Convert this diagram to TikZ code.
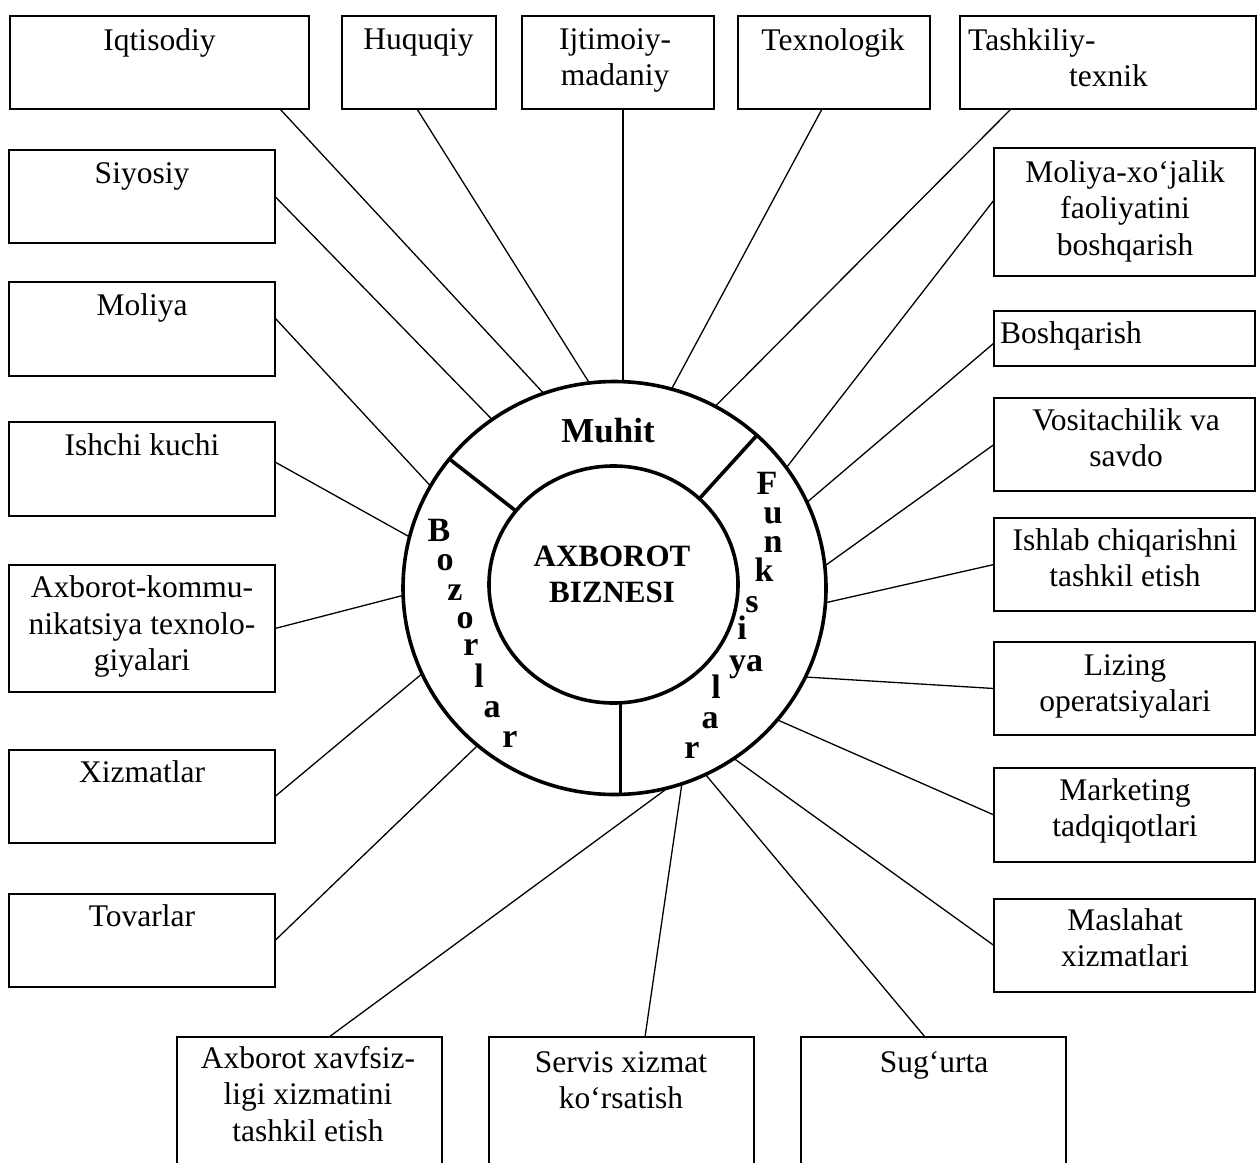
\documentclass[tikz,border=0pt]{standalone}
\usepackage{fontspec}
\setmainfont{Liberation Serif}
\usetikzlibrary{shapes.geometric}
% stacked, centred lines whose baseline is that of the first line
\newcommand{\boxlines}[1]{\begin{tabular}[t]{@{}c@{}}#1\end{tabular}}
\begin{document}
\begin{tikzpicture}[x=1pt,y=-1pt,
  frame/.style={draw, rectangle, line width=1.6pt, inner sep=0pt, outer sep=0pt},
  boxtext/.style={inner sep=0pt, anchor=base, font=\fontsize{31.5}{36.5}\selectfont},
  link/.style={line width=1.3pt},
  ring/.style={draw, ellipse, line width=3.6pt, inner sep=0pt, outer sep=0pt},
  divider/.style={line width=3.6pt},
  letter/.style={inner sep=0pt, anchor=base, font=\fontsize{34}{40}\selectfont\bfseries}
]
\useasboundingbox (0,0) rectangle (1257,1162);
\clip (0,0) rectangle (1257,1162);

% ---- boxes: top row
\node[frame, minimum width=299, minimum height=93] (iqt)  at (159.5,62.5) {};
\node[frame, minimum width=154, minimum height=93] (huq)  at (419,62.5) {};
\node[frame, minimum width=192, minimum height=93] (ijt)  at (618,62.5) {};
\node[frame, minimum width=192, minimum height=93] (tex)  at (834,62.5) {};
\node[frame, minimum width=296, minimum height=93] (tash) at (1108,62.5) {};
% ---- boxes: left column
\node[frame, minimum width=266, minimum height=93]  (siy) at (142,196.5) {};
\node[frame, minimum width=266, minimum height=94]  (mol) at (142,329) {};
\node[frame, minimum width=266, minimum height=94]  (ish) at (142,469) {};
\node[frame, minimum width=266, minimum height=127] (akt) at (142,628.5) {};
\node[frame, minimum width=266, minimum height=93]  (xiz) at (142,796.5) {};
\node[frame, minimum width=266, minimum height=93]  (tov) at (142,940.5) {};
% ---- boxes: right column
\node[frame, minimum width=261, minimum height=128] (mxj)  at (1124.5,212) {};
\node[frame, minimum width=261, minimum height=55]  (bosh) at (1124.5,338.5) {};
\node[frame, minimum width=261, minimum height=93]  (vos)  at (1124.5,444.5) {};
\node[frame, minimum width=261, minimum height=93]  (ishl) at (1124.5,564.5) {};
\node[frame, minimum width=261, minimum height=93]  (liz)  at (1124.5,688.5) {};
\node[frame, minimum width=261, minimum height=94]  (mark) at (1124.5,815) {};
\node[frame, minimum width=261, minimum height=93]  (masl) at (1124.5,945.5) {};
% ---- boxes: bottom row (running off the page)
\node[frame, minimum width=265, minimum height=163] (axx)  at (309.5,1118.5) {};
\node[frame, minimum width=265, minimum height=163] (serv) at (621.5,1118.5) {};
\node[frame, minimum width=265, minimum height=163] (sug)  at (933.5,1118.5) {};

% ---- central rings (shape only, drawn later on top of the links)
\node[ring, draw=none, minimum width=423, minimum height=413] (outer) at (614.5,588) {};
\node[ring, draw=none, minimum width=249, minimum height=237] (inner) at (613.5,584.5) {};

% ---- links from the boxes to the outer ring
\draw[link] ([xshift=120.5]iqt.south) -- (outer.110.4);
\draw[link] ([xshift=-2]huq.south) -- (outer.97.3);
\draw[link] ([xshift=5]ijt.south) -- ([xshift=5]ijt.south |- outer.north);
\draw[link] ([xshift=-12]tex.south) -- (outer.74.4);
\draw[link] ([xshift=-97]tash.south) -- (outer.61);
\draw[link] (siy.east) -- (outer.126.4);
\draw[link] ([yshift=11]mol.east) -- (outer.151.6);
\draw[link] ([yshift=7]ish.east) -- (outer.166.7);
\draw[link] (akt.east) -- (outer.182.4);
\draw[link] (xiz.east) -- (outer.204.1);
\draw[link] (tov.east) -- (outer.229);
\draw[link] ([yshift=12]mxj.west) -- (outer.35.9);
\draw[link] ([yshift=-4.5]bosh.west) -- (outer.24.5);
\draw[link] (vos.west) -- (outer.6.4);
\draw[link] (ishl.west) -- (outer.-4.8);
\draw[link] (liz.west) -- (outer.-25.3);
\draw[link] (mark.west) -- (outer.-39.5);
\draw[link] (masl.west) -- (outer.-55.7);
\draw[link] ([xshift=-8.5]sug.north) -- (outer.-64.4);
\draw[link] ([xshift=23.5]serv.north) -- (outer.-71.3);
\draw[link] ([xshift=19.5]axx.north) -- (outer.-75.7);

% ---- rings and the three dividers between them
\draw[divider] (outer.center) ellipse [x radius=211.5, y radius=206.5];
\draw[divider] (inner.center) ellipse [x radius=124.5, y radius=118.5];
\draw[divider] (outer.142.9) -- (inner.143.8);
\draw[divider] (outer.47.1) -- (inner.45.6);
\draw[divider] ([xshift=7]inner.south) -- ([xshift=7]inner.south |- outer.south);

% ---- box texts
\node[boxtext] (iqt-t) at (159.5,50) {\boxlines{Iqtisodiy}};
\node[boxtext] (huq-t) at (418.5,49) {\boxlines{Huquqiy}};
\node[boxtext, font=\fontsize{31.5}{36}\selectfont] (ijt-t) at (615,49) {\boxlines{Ijtimoiy-\\madaniy}};
\node[boxtext] (tex-t) at (833,50) {\boxlines{Texnologik}};
\node[boxtext, anchor=base west, font=\fontsize{31.5}{36}\selectfont] (tash-t) at (968,50)
  {\begin{tabular}[t]{@{}l@{}}Tashkiliy-\\\hspace*{101pt}texnik\end{tabular}};
\node[boxtext] (siy-t) at (142,183) {\boxlines{Siyosiy}};
\node[boxtext] (mol-t) at (142,315) {\boxlines{Moliya}};
\node[boxtext] (ish-t) at (142,455) {\boxlines{Ishchi kuchi}};
\node[boxtext] (akt-t) at (142,597.5) {\boxlines{Axborot-kommu-\\nikatsiya texnolo-\\giyalari}};
\node[boxtext] (xiz-t) at (142,782.5) {\boxlines{Xizmatlar}};
\node[boxtext] (tov-t) at (142,926.5) {\boxlines{Tovarlar}};
\node[boxtext] (mxj-t) at (1125,182) {\boxlines{Moliya-xo‘jalik\\faoliyatini\\boshqarish}};
\node[boxtext, anchor=base west] (bosh-t) at (1000,343) {Boshqarish};
\node[boxtext] (vos-t) at (1126,430) {\boxlines{Vositachilik va\\savdo}};
\node[boxtext] (ishl-t) at (1125,550) {\boxlines{Ishlab chiqarishni\\tashkil etish}};
\node[boxtext] (liz-t) at (1125,675) {\boxlines{Lizing\\operatsiyalari}};
\node[boxtext] (mark-t) at (1125,800) {\boxlines{Marketing\\tadqiqotlari}};
\node[boxtext] (masl-t) at (1125,930) {\boxlines{Maslahat\\xizmatlari}};
\node[boxtext] (axx-t) at (308,1068) {\boxlines{Axborot xavfsiz-\\ligi xizmatini\\tashkil etish}};
\node[boxtext] (serv-t) at (621,1072) {\boxlines{Servis xizmat\\ko‘rsatish}};
\node[boxtext] (sug-t) at (934,1072) {\boxlines{Sug‘urta}};

% ---- ring texts
\node[letter, font=\fontsize{35}{40}\selectfont\bfseries] (muhit) at (608,442) {Muhit};
\node[letter, font=\fontsize{31}{36}\selectfont\bfseries] (core) at (612,566) {\boxlines{AXBOROT\\BIZNESI}};

% "Bozorlar" running down the left part of the ring
\node[letter] (b1) at (439,541) {B};
\node[letter] (b2) at (445,570) {o};
\node[letter] (b3) at (455,600) {z};
\node[letter] (b4) at (465,628) {o};
\node[letter] (b5) at (471,655) {r};
\node[letter] (b6) at (479,687) {l};
\node[letter] (b7) at (492,717) {a};
\node[letter] (b8) at (510,747) {r};

% "Funksiyalar" running down the right part of the ring
\node[letter] (f1)  at (767,494) {F};
\node[letter] (f2)  at (773,523) {u};
\node[letter] (f3)  at (773,552) {n};
\node[letter] (f4)  at (764,581) {k};
\node[letter] (f5)  at (752,612) {s};
\node[letter] (f6)  at (742,639) {i};
\node[letter] (f7)  at (746,671) {ya};
\node[letter] (f8)  at (716,698) {l};
\node[letter] (f9)  at (710,728) {a};
\node[letter] (f10) at (692,758) {r};
\end{tikzpicture}
\end{document}
